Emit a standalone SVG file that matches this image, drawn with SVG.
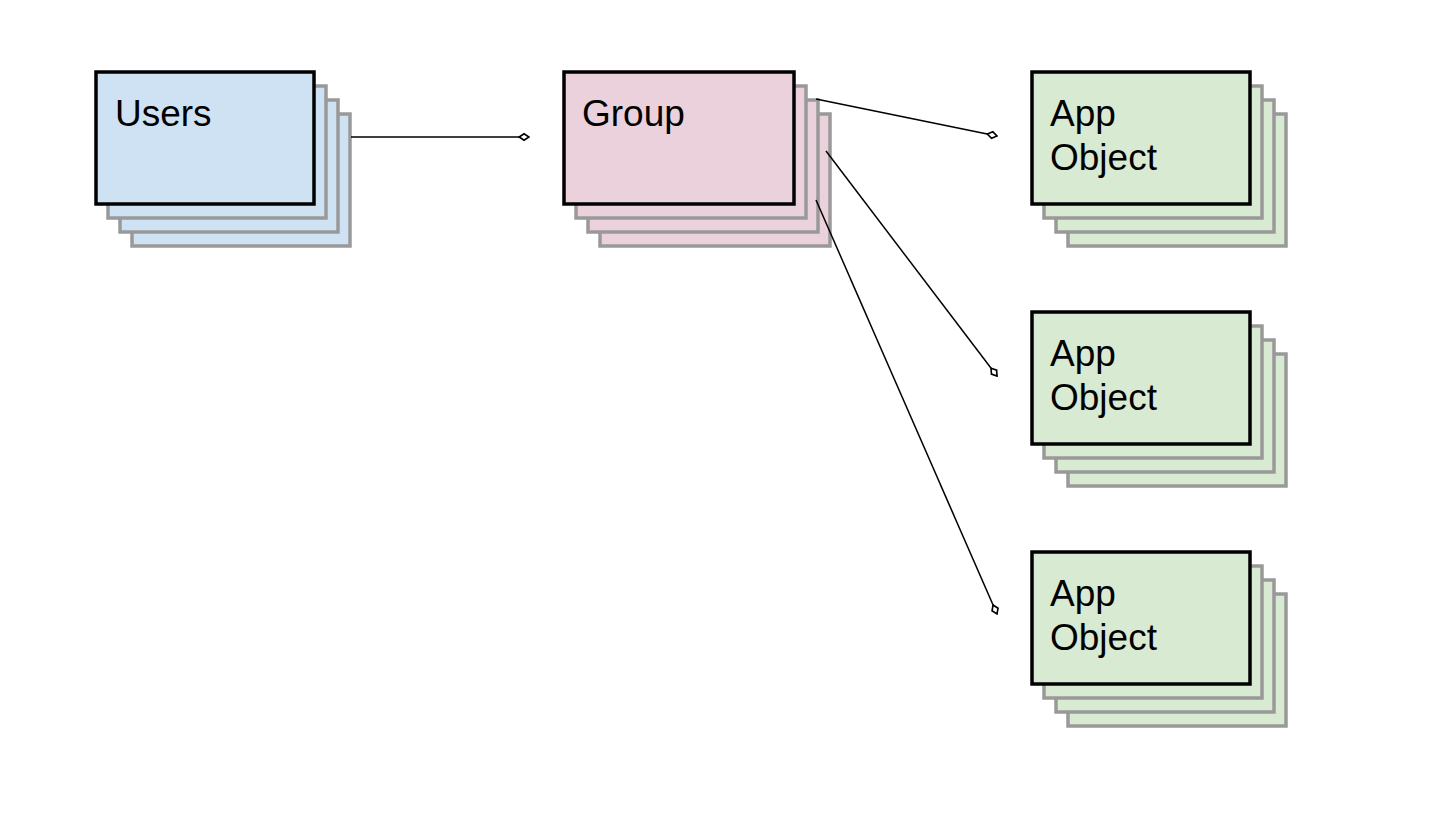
<svg xmlns="http://www.w3.org/2000/svg" width="1446" height="828" viewBox="0 0 1446 828">
<style>
.back{stroke:#999999;stroke-width:3.5}
.main{stroke:#000000;stroke-width:3.5}
.blue{fill:#cfe2f3}
.pink{fill:#ead1dc}
.green{fill:#d9ead3}
.lbl{font-family:"Liberation Sans",Arial,sans-serif;font-size:37px;fill:#000000}
.conn{stroke:#000000;stroke-width:1.5;fill:none;marker-end:url(#dia)}
</style>
<defs>
<marker id="dia" markerUnits="userSpaceOnUse" markerWidth="12" markerHeight="10" viewBox="-1 -4 11 8" refX="9" refY="0" orient="auto">
<path d="M0,0 L4.5,-3 L9,0 L4.5,3 Z" fill="#ffffff" stroke="#000000" stroke-width="1.5"/>
</marker>
</defs>
<rect width="1446" height="828" fill="#ffffff"/>
<g id="users">
<rect class="back blue" x="132" y="114" width="218" height="132"/>
<rect class="back blue" x="120" y="100" width="218" height="132"/>
<rect class="back blue" x="108" y="86" width="218" height="132"/>
<rect class="main blue" x="96" y="72" width="218" height="132"/>
<text class="lbl" x="115" y="126">Users</text>
</g>
<g id="group">
<rect class="back pink" x="600" y="114" width="230" height="132"/>
<rect class="back pink" x="588" y="100" width="230" height="132"/>
<rect class="back pink" x="576" y="86" width="230" height="132"/>
<rect class="main pink" x="564" y="72" width="230" height="132"/>
<text class="lbl" x="582" y="126">Group</text>
</g>
<g id="app1">
<rect class="back green" x="1068" y="114" width="218" height="132"/>
<rect class="back green" x="1056" y="100" width="218" height="132"/>
<rect class="back green" x="1044" y="86" width="218" height="132"/>
<rect class="main green" x="1032" y="72" width="218" height="132"/>
<text class="lbl" x="1050" y="126">App</text>
<text class="lbl" x="1050" y="170">Object</text>
</g>
<g id="app2">
<rect class="back green" x="1068" y="354" width="218" height="132"/>
<rect class="back green" x="1056" y="340" width="218" height="132"/>
<rect class="back green" x="1044" y="326" width="218" height="132"/>
<rect class="main green" x="1032" y="312" width="218" height="132"/>
<text class="lbl" x="1050" y="366">App</text>
<text class="lbl" x="1050" y="410">Object</text>
</g>
<g id="app3">
<rect class="back green" x="1068" y="594" width="218" height="132"/>
<rect class="back green" x="1056" y="580" width="218" height="132"/>
<rect class="back green" x="1044" y="566" width="218" height="132"/>
<rect class="main green" x="1032" y="552" width="218" height="132"/>
<text class="lbl" x="1050" y="606">App</text>
<text class="lbl" x="1050" y="650">Object</text>
</g>
<g id="connectors">
<line class="conn" x1="351" y1="137" x2="529" y2="137"/>
<line class="conn" x1="816" y1="99" x2="997" y2="136"/>
<line class="conn" x1="826" y1="151" x2="997" y2="376"/>
<line class="conn" x1="816" y1="200" x2="997" y2="614"/>
</g>
</svg>
